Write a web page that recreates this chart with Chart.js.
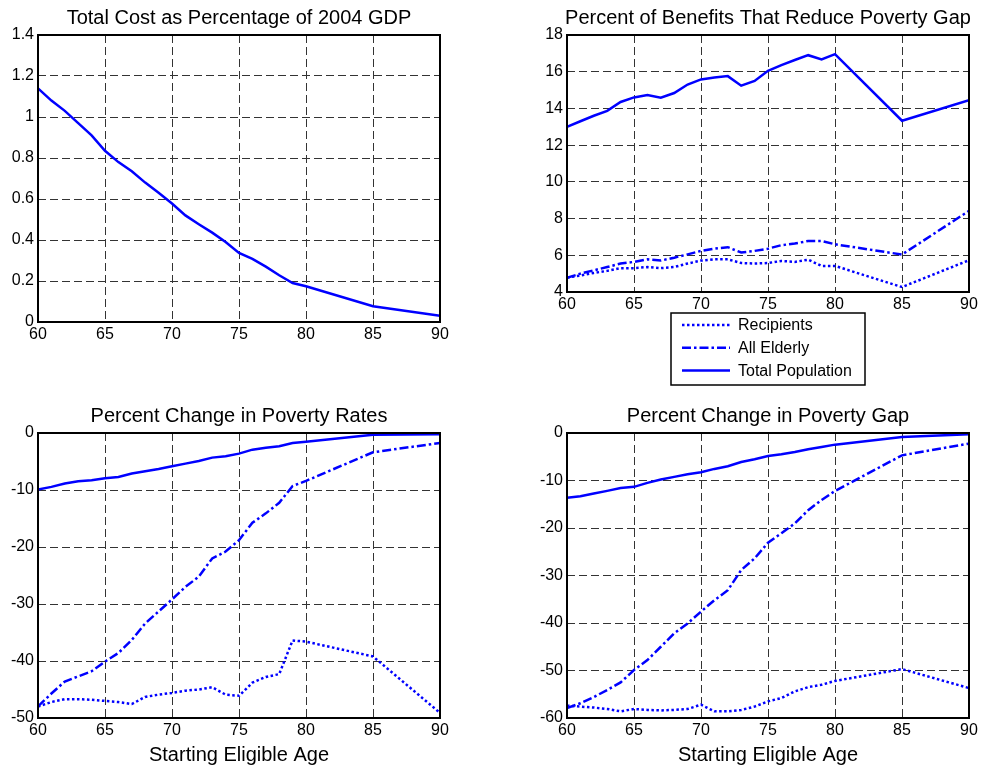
<!DOCTYPE html>
<html>
<head>
<meta charset="utf-8">
<script src="https://cdn.jsdelivr.net/npm/chart.js@4/dist/chart.umd.min.js"></script>
<style>
  html, body { margin: 0; padding: 0; background: #fff; }
  #wrap { position: relative; width: 984px; height: 770px; }
  #wrap canvas { position: absolute; left: 0; top: 0; width: 984px; height: 770px; pointer-events: none; }
</style>
</head>
<body>
<div id="wrap">
  <canvas id="cost" width="984" height="770"></canvas>
  <canvas id="benefits" width="984" height="770"></canvas>
  <canvas id="rates" width="984" height="770"></canvas>
  <canvas id="gap" width="984" height="770"></canvas>
</div>
<script>
// starting eligible age (yearly to 80, then 85 and 90)
const ages = [60, 61, 62, 63, 64, 65, 66, 67, 68, 69, 70, 71, 72, 73, 74, 75, 76, 77, 78, 79, 80, 85, 90];

const costGdp = [1.14, 1.08, 1.03, 0.97, 0.91, 0.835, 0.78, 0.735, 0.68, 0.63, 0.578, 0.52, 0.477, 0.436, 0.39, 0.337, 0.308, 0.27, 0.228, 0.19, 0.174, 0.077, 0.03];

const benefitRecip = [4.78, 4.9, 5.04, 5.15, 5.3, 5.3, 5.36, 5.3, 5.36, 5.55, 5.71, 5.78, 5.78, 5.58, 5.55, 5.58, 5.69, 5.64, 5.76, 5.42, 5.42, 4.27, 5.73];
const benefitElderly = [4.78, 5.0, 5.18, 5.36, 5.55, 5.64, 5.78, 5.71, 5.87, 6.05, 6.24, 6.36, 6.44, 6.15, 6.24, 6.36, 6.55, 6.64, 6.78, 6.78, 6.6, 6.04, 8.42];
const benefitTotal = [13.0, 13.3, 13.6, 13.87, 14.35, 14.6, 14.73, 14.58, 14.84, 15.3, 15.58, 15.69, 15.76, 15.24, 15.5, 16.05, 16.36, 16.64, 16.9, 16.67, 16.96, 13.33, 14.45];

const rateRecip = [-48, -47.2, -46.7, -46.7, -46.8, -47.0, -47.2, -47.55, -46.3, -45.9, -45.6, -45.2, -45.0, -44.6, -45.9, -46.1, -43.8, -42.8, -42.3, -36.4, -36.6, -39.2, -49.1];
const rateElderly = [-47.96, -45.7, -43.6, -42.7, -41.8, -40.1, -38.6, -36.3, -33.4, -31.3, -29.2, -27.0, -25.2, -22.0, -20.8, -18.8, -15.75, -14.1, -12.25, -9.3, -8.4, -3.38, -1.75];
const rateTotal = [-9.92, -9.45, -8.87, -8.46, -8.28, -7.93, -7.7, -7.12, -6.71, -6.3, -5.83, -5.37, -4.9, -4.32, -4.08, -3.62, -2.92, -2.57, -2.33, -1.75, -1.52, -0.29, -0.23];

const gapRecip = [-57.4, -57.6, -57.8, -58.1, -58.6, -58.1, -58.3, -58.4, -58.3, -58.1, -57.2, -58.6, -58.6, -58.3, -57.6, -56.5, -55.8, -54.4, -53.5, -53.0, -52.2, -49.7, -53.7];
const gapElderly = [-57.9, -56.9, -55.6, -54.1, -52.5, -49.9, -47.8, -45.0, -42.2, -40.1, -37.6, -35.2, -33.1, -28.85, -26.4, -23.1, -21.1, -19.05, -16.25, -14.1, -12.2, -4.7, -2.24];
const gapTotal = [-13.65, -13.3, -12.74, -12.18, -11.6, -11.34, -10.5, -9.8, -9.24, -8.68, -8.26, -7.56, -7.0, -6.1, -5.53, -4.83, -4.48, -4.0, -3.43, -2.94, -2.45, -0.84, -0.28];

const seriesNames = ['Recipients', 'All Elderly', 'Total Population'];

const FONT = '"Liberation Sans", Arial, sans-serif';
const BLUE = '#0000ff';
const DOTTED = [2.5, 2.5];
const DASHDOT = [9, 3, 2.5, 3];

const pts = (vals) => vals.map((v, i) => ({ x: ages[i], y: v }));

const line = (label, vals, dash) => ({
  label: label,
  data: pts(vals),
  borderColor: BLUE,
  borderWidth: 2.5,
  borderDash: dash,
  borderCapStyle: 'butt',
  pointRadius: 0,
  tension: 0,
  fill: false
});

// axes box, title and x label, in MATLAB style
const framePlugin = {
  id: 'frame',
  afterDraw(chart, args, opts) {
    const a = chart.chartArea;
    const ctx = chart.ctx;
    ctx.save();
    ctx.strokeStyle = '#000';
    ctx.lineWidth = 2;
    ctx.setLineDash([]);
    ctx.strokeRect(a.left, a.top, a.right - a.left, a.bottom - a.top);
    ctx.fillStyle = '#000';
    ctx.textAlign = 'center';
    ctx.textBaseline = 'alphabetic';
    ctx.font = '20px ' + FONT;
    ctx.fillText(opts.title, (a.left + a.right) / 2, a.top - 11);
    if (opts.xlabel) {
      ctx.fillText(opts.xlabel, (a.left + a.right) / 2, a.bottom + 43);
    }
    if (opts.legend) {
      const lg = opts.legend;
      ctx.fillStyle = '#fff';
      ctx.fillRect(lg.x, lg.y, lg.w, lg.h);
      ctx.lineWidth = 1.5;
      ctx.strokeStyle = '#000';
      ctx.strokeRect(lg.x, lg.y, lg.w, lg.h);
      ctx.font = '16px ' + FONT;
      ctx.textAlign = 'left';
      ctx.textBaseline = 'middle';
      chart.data.datasets.forEach((ds, i) => {
        const y = lg.y + 12 + i * 22.7;
        ctx.strokeStyle = ds.borderColor;
        ctx.lineWidth = 2.5;
        ctx.lineCap = 'butt';
        ctx.setLineDash(ds.borderDash || []);
        ctx.beginPath();
        ctx.moveTo(lg.x + 11, y);
        ctx.lineTo(lg.x + 59, y);
        ctx.stroke();
        ctx.setLineDash([]);
        ctx.fillStyle = '#000';
        ctx.fillText(ds.label, lg.x + 67, y + 1);
      });
    }
    ctx.restore();
  }
};

function makePlot(id, box, datasets, yMin, yMax, yStep, frameOpts) {
  const W = 40, H = 30;
  return new Chart(document.getElementById(id), {
    type: 'line',
    data: { datasets: datasets },
    plugins: [framePlugin],
    options: {
      responsive: false,
      animation: false,
      layout: {
        padding: { left: box.l - W, top: box.t, right: 984 - box.r, bottom: 770 - box.b - H }
      },
      plugins: {
        legend: { display: false },
        tooltip: { enabled: false },
        frame: frameOpts
      },
      scales: {
        x: {
          type: 'linear',
          min: 60, max: 90,
          afterFit: (s) => { s.height = H; },
          ticks: { stepSize: 5, autoSkip: false, maxRotation: 0, padding: 3, color: '#000', font: { family: FONT, size: 16 } },
          grid: { color: '#333', lineWidth: 1, drawTicks: false },
          border: { display: false, dash: [8, 4] }
        },
        y: {
          min: yMin, max: yMax,
          afterFit: (s) => { s.width = W; },
          ticks: {
            stepSize: yStep, padding: 4, color: '#000', font: { family: FONT, size: 16 },
            callback: (v) => String(Number(v.toFixed(1)))
          },
          grid: { color: '#333', lineWidth: 1, drawTicks: false },
          border: { display: false, dash: [8, 4] }
        }
      }
    }
  });
}

makePlot('cost', { l: 38, r: 440, t: 35, b: 322 },
  [line('Total Population', costGdp, [])],
  0, 1.4, 0.2,
  { title: 'Total Cost as Percentage of 2004 GDP' });

makePlot('benefits', { l: 567, r: 969, t: 35, b: 292 },
  [line(seriesNames[0], benefitRecip, DOTTED),
   line(seriesNames[1], benefitElderly, DASHDOT),
   line(seriesNames[2], benefitTotal, [])],
  4, 18, 2,
  { title: 'Percent of Benefits That Reduce Poverty Gap', legend: { x: 671, y: 313, w: 194, h: 72 } });

makePlot('rates', { l: 38, r: 440, t: 433, b: 718 },
  [line(seriesNames[0], rateRecip, DOTTED),
   line(seriesNames[1], rateElderly, DASHDOT),
   line(seriesNames[2], rateTotal, [])],
  -50, 0, 10,
  { title: 'Percent Change in Poverty Rates', xlabel: 'Starting Eligible Age' });

makePlot('gap', { l: 567, r: 969, t: 433, b: 718 },
  [line(seriesNames[0], gapRecip, DOTTED),
   line(seriesNames[1], gapElderly, DASHDOT),
   line(seriesNames[2], gapTotal, [])],
  -60, 0, 10,
  { title: 'Percent Change in Poverty Gap', xlabel: 'Starting Eligible Age' });
</script>
</body>
</html>
